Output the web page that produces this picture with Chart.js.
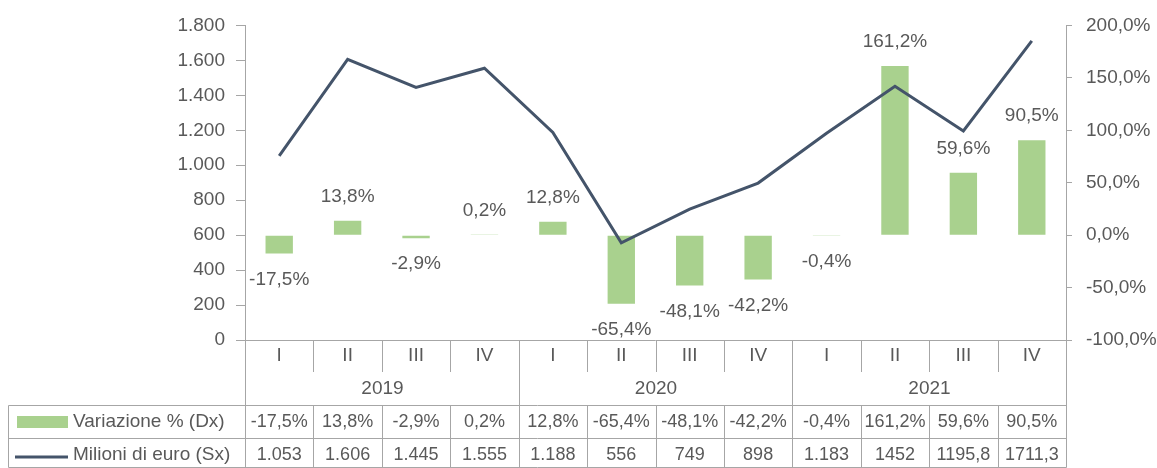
<!DOCTYPE html>
<html lang="it">
<head>
  <meta charset="UTF-8" />
  <title>Variazione % e milioni di euro</title>
  <script src="https://cdn.jsdelivr.net/npm/chart.js"></script>
  <style>
    body {
      margin: 0;
      background: #fff;
    }
    .box {
      width: 1157px;
      height: 468px;
      position: relative;
    }
  </style>
</head>
<body>

<div class="box">
  <canvas id="grafico"></canvas>
</div>

<script>
  // dati
  const trimestri = ['I', 'II', 'III', 'IV', 'I', 'II', 'III', 'IV', 'I', 'II', 'III', 'IV'];
  const anni = ['2019', '2020', '2021'];
  const variazione = [-17.5, 13.8, -2.9, 0.2, 12.8, -65.4, -48.1, -42.2, -0.4, 161.2, 59.6, 90.5];
  const milioni = [1053, 1606, 1445, 1555, 1188, 556, 749, 898, 1183, 1452, 1195.8, 1711.3];
  const milioniTesto = ['1.053', '1.606', '1.445', '1.555', '1.188', '556', '749', '898', '1.183', '1452', '1195,8', '1711,3'];

  const VERDE = '#A9D18E';
  const BLU = '#44546A';
  const GRIGIO = '#595959';
  const LINEA = '#A6A6A6';
  const FONT = '"Liberation Sans", Arial, sans-serif';

  const fmtPct = v => v.toFixed(1).replace('.', ',') + '%';
  const fmtMig = v => String(v).replace(/\B(?=(\d{3})+(?!\d))/g, '.');

  // etichette sopra/sotto le barre
  const etichettePlugin = {
    id: 'etichette',
    afterDatasetsDraw(chart) {
      const ctx = chart.ctx;
      const meta = chart.getDatasetMeta(1);
      ctx.save();
      ctx.font = '19px ' + FONT;
      ctx.fillStyle = GRIGIO;
      ctx.textAlign = 'center';
      ctx.textBaseline = 'middle';
      meta.data.forEach((bar, i) => {
        const v = variazione[i];
        const y = v >= 0 ? bar.y - 24 : bar.y + 26;
        ctx.fillText(fmtPct(v), bar.x, y);
      });
      ctx.restore();
    }
  };

  // tabella dati sotto il grafico
  const tabellaPlugin = {
    id: 'tabella',
    afterDraw(chart) {
      const ctx = chart.ctx;
      const x = chart.scales.x;
      const area = chart.chartArea;
      const half = (x.getPixelForValue(1) - x.getPixelForValue(0)) / 2;
      const bordi = [];
      for (let k = 0; k <= trimestri.length; k++) {
        bordi.push(Math.round(x.getPixelForValue(0) - half + k * half * 2) + 0.5);
      }
      const yTop = Math.round(area.bottom) + 0.5;
      const r1 = 405.5, r2 = 438.5, r3 = 467.5;

      ctx.save();
      ctx.strokeStyle = LINEA;
      ctx.lineWidth = 1;
      ctx.beginPath();
      ctx.moveTo(area.left, yTop);
      ctx.lineTo(area.right, yTop);
      bordi.forEach((bx, k) => {
        if (k % 4 === 0) {
          ctx.moveTo(bx, yTop);
          ctx.lineTo(bx, r3);
        } else {
          ctx.moveTo(bx, yTop);
          ctx.lineTo(bx, 372);
          ctx.moveTo(bx, r1);
          ctx.lineTo(bx, r3);
        }
      });
      ctx.moveTo(8.5, r1);
      ctx.lineTo(8.5, r3);
      [r1, r2, r3].forEach(r => {
        ctx.moveTo(8.5, r);
        ctx.lineTo(bordi[bordi.length - 1], r);
      });
      ctx.stroke();

      ctx.fillStyle = GRIGIO;
      ctx.textAlign = 'center';
      ctx.textBaseline = 'middle';
      ctx.font = '19px ' + FONT;
      trimestri.forEach((t, i) => ctx.fillText(t, x.getPixelForValue(i), 356));
      anni.forEach((a, j) => ctx.fillText(a, (bordi[j * 4] + bordi[j * 4 + 4]) / 2, 389));

      ctx.font = '18px ' + FONT;
      variazione.forEach((v, i) => ctx.fillText(fmtPct(v), x.getPixelForValue(i), 422));
      milioniTesto.forEach((t, i) => ctx.fillText(t, x.getPixelForValue(i), 455));

      // legenda nella tabella
      ctx.fillStyle = VERDE;
      ctx.fillRect(17, 416, 51, 12);
      ctx.strokeStyle = BLU;
      ctx.lineWidth = 3;
      ctx.beginPath();
      ctx.moveTo(15, 457);
      ctx.lineTo(68, 457);
      ctx.stroke();

      ctx.fillStyle = GRIGIO;
      ctx.textAlign = 'left';
      ctx.font = '19px ' + FONT;
      ctx.fillText('Variazione % (Dx)', 73, 422);
      ctx.fillText('Milioni di euro (Sx)', 73, 455);
      ctx.restore();
    }
  };

  new Chart(document.getElementById('grafico').getContext('2d'), {
    data: {
      labels: trimestri,
      datasets: [
        {
          type: 'line',
          label: 'Milioni di euro (Sx)',
          data: milioni,
          yAxisID: 'y',
          borderColor: BLU,
          borderWidth: 3,
          pointRadius: 0,
          tension: 0,
          order: 0
        },
        {
          type: 'bar',
          label: 'Variazione % (Dx)',
          data: variazione,
          yAxisID: 'y1',
          backgroundColor: VERDE,
          barPercentage: 0.4,
          categoryPercentage: 1,
          order: 1
        }
      ]
    },
    options: {
      responsive: true,
      maintainAspectRatio: false,
      animation: false,
      layout: { padding: { top: 24, bottom: 128, left: 0, right: 0 } },
      plugins: {
        legend: { display: false },
        tooltip: { enabled: false }
      },
      scales: {
        x: {
          display: false,
          offset: true
        },
        y: {
          position: 'left',
          min: 0,
          max: 1800,
          afterFit: s => { s.width = 245; },
          border: { color: LINEA },
          grid: { drawOnChartArea: false, tickLength: 9, color: LINEA },
          ticks: {
            stepSize: 200,
            padding: 11,
            color: GRIGIO,
            font: { family: FONT, size: 19 },
            callback: v => fmtMig(v)
          }
        },
        y1: {
          position: 'right',
          min: -100,
          max: 200,
          afterFit: s => { s.width = 91; },
          border: { color: LINEA },
          grid: { drawOnChartArea: false, tickLength: 6, color: LINEA },
          ticks: {
            stepSize: 50,
            padding: 14,
            color: GRIGIO,
            font: { family: FONT, size: 19 },
            callback: v => fmtPct(v)
          }
        }
      }
    },
    plugins: [etichettePlugin, tabellaPlugin]
  });
</script>

</body>
</html>
